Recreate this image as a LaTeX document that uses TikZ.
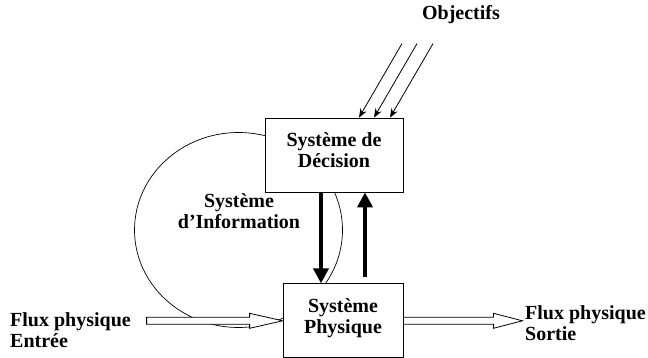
\documentclass[tikz,border=0pt]{standalone}
\usepackage{fontspec}
\setmainfont{Liberation Serif}
\usepackage{tikz}
\usetikzlibrary{
	arrows.meta,									% 提供各种箭头样式
	calc,											% 坐标计算
	positioning,									% 节点的高级摆放
}
% 空心粗箭头：#1 起点, #2 终点, #3 箭头长度
\newcommand{\fluxfleche}[3]{%
	\draw[line width=0.8pt, fill=white] ($(#1)+(0,3.5)$) -- ($(#2)+(-#3,3.5)$) -- ($(#2)+(-#3,7.5)$) -- (#2)
	-- ($(#2)+(-#3,-7.5)$) -- ($(#2)+(-#3,-3.5)$) -- ($(#1)+(0,-3.5)$) -- cycle;}

\begin{document}
\begin{tikzpicture}[x=1pt, y=1pt, font=\fontsize{20}{21}\selectfont\bfseries,
		boite/.style={draw, fill=white, line width=0.8pt, inner sep=0pt, align=center},
		epaisse/.style={line width=4.5pt, -{Triangle[length=15pt, width=15pt]}},
		fine/.style={line width=0.8pt, -{Stealth[length=9pt, width=7pt]}}]
	\useasboundingbox (0,0) rectangle (648,358);
	\draw[line width=0.7pt] (238.5,128) ellipse [x radius=104, y radius=97.5];
	\node[boite, minimum width=138pt, minimum height=74pt] (decision) at (334,203) {Système de\\Décision\rule[-9pt]{0pt}{1pt}};
	\node[boite, minimum width=120pt, minimum height=74pt, below=91pt of decision.south east, anchor=north east] (physique) {Système\\Physique\rule[-9pt]{0pt}{1pt}};
	\node[align=center] (info) at (239,147) {Système\\d’Information};
	\node[anchor=base] (objectifs) at (461,338) {Objectifs};
	\node[anchor=north west, align=left, inner sep=0pt] (entree) at (10,46) {Flux physique\\Entrée};
	\node[anchor=north west, align=left, inner sep=0pt] (sortie) at (525,53) {Flux physique\\Sortie};
	% objectifs
	\foreach \d [count=\i] in {25,40,56} {
		\coordinate (o\i) at ($(decision.north)+(\d+43,74)$);
		\draw[fine] (o\i) -- ($(decision.north)+(\d,0)$);
	}
	% information
	\draw[epaisse] ($(decision.south)+(-13,0)$) -- ($(physique.north)+(-22,0)$);
	\draw[epaisse] ($(physique.north)+(22,6)$) -- ($(decision.south)+(31,0)$);
	% flux physique
	\coordinate (e0) at ($(physique.west)+(-136,0)$);
	\coordinate (s1) at ($(physique.east)+(119,0)$);
	\fluxfleche{e0}{physique.west}{33}
	\fluxfleche{physique.east}{s1}{29}
\end{tikzpicture}
\end{document}
